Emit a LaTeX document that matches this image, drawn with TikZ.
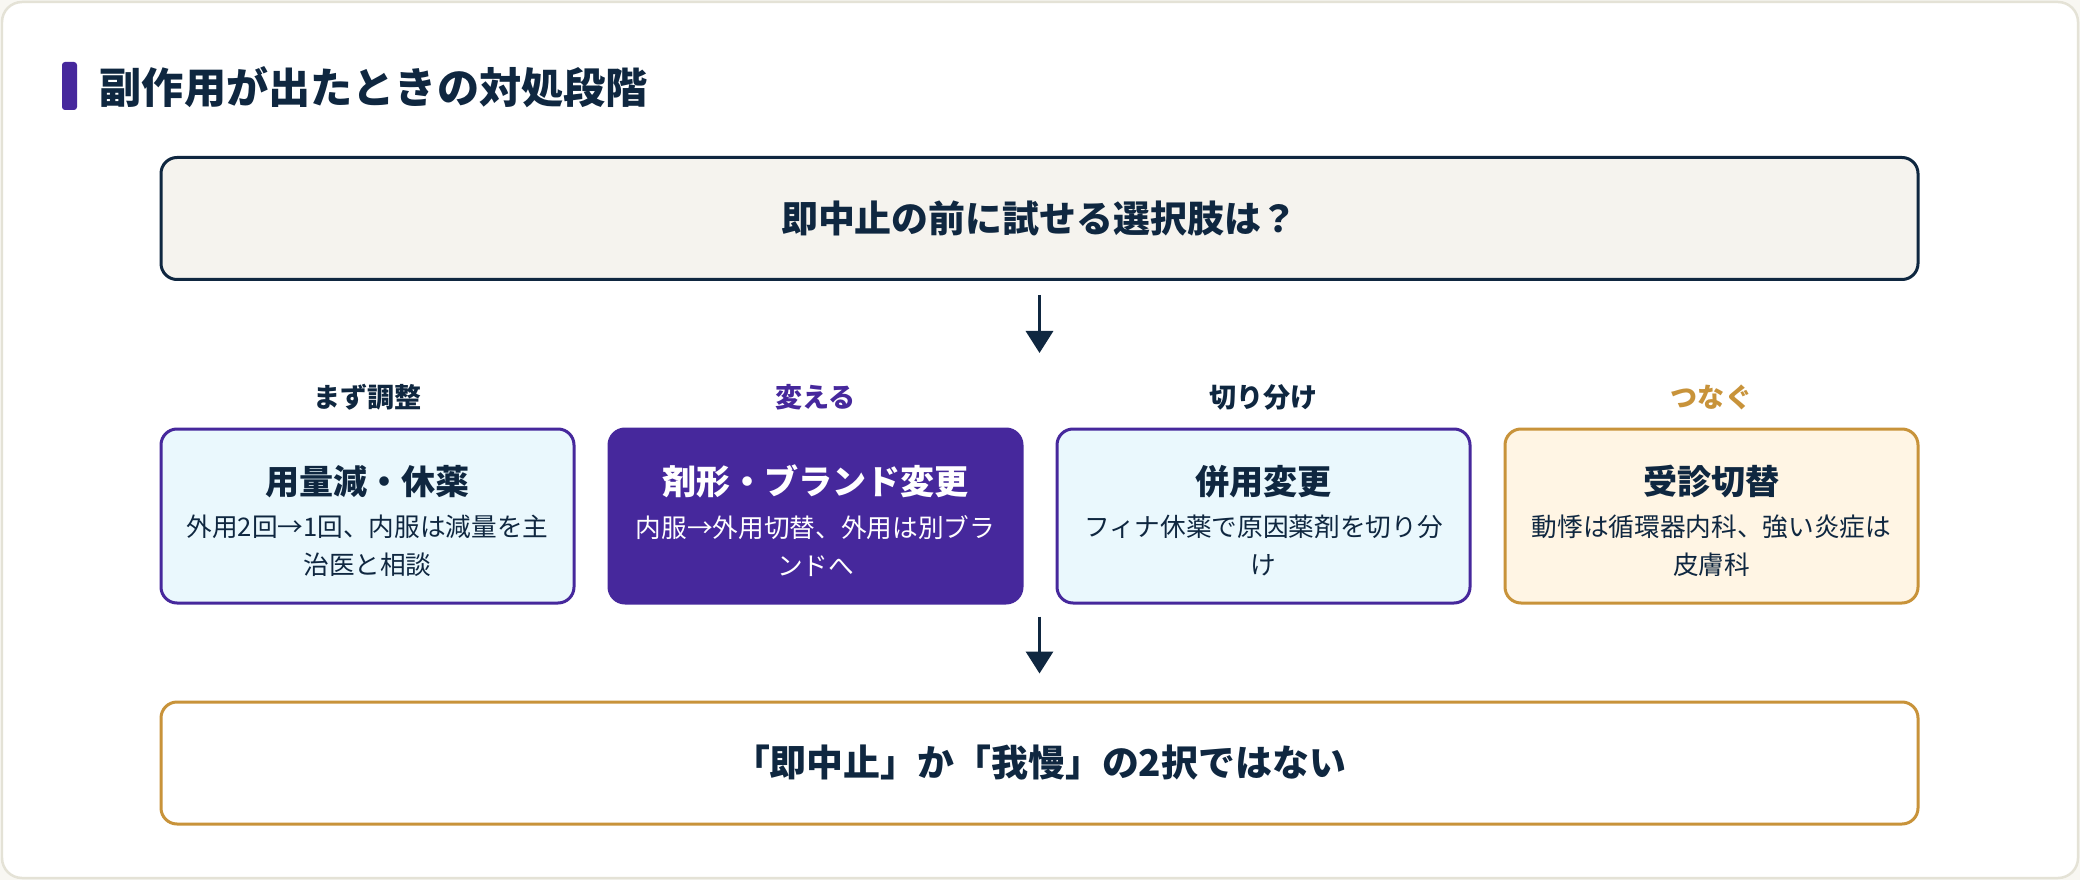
\documentclass[tikz,border=0pt]{standalone}
\usepackage{fontspec}
\setmainfont{Noto Sans CJK JP}
\usetikzlibrary{arrows.meta}

\definecolor{navy}{HTML}{0F2740}
\definecolor{violet}{HTML}{46289C}
\definecolor{gold}{HTML}{C8933A}
\definecolor{skyfill}{HTML}{EAF8FD}
\definecolor{creamfill}{HTML}{FFF5E4}
\definecolor{paperfill}{HTML}{F5F3EE}
\definecolor{cardline}{HTML}{E4E2D6}
\definecolor{outside}{HTML}{F8F7F2}

\tikzset{
  stepcard/.style={draw, line width=0.3mm, rounded corners=1.6mm, align=center,
    minimum width=41.3mm, minimum height=17.4mm, inner sep=0pt,
    font=\fontsize{7.3}{10.8}\selectfont},
  widecard/.style={draw, line width=0.3mm, rounded corners=1.6mm,
    minimum width=175.7mm, minimum height=12.2mm, inner sep=0pt,
    font=\bfseries\fontsize{10.5}{12}\selectfont, text=navy},
  steptag/.style={font=\bfseries\fontsize{7.7}{9}\selectfont},
  downarrow/.style={draw=navy, line width=0.33mm,
    -{Triangle[width=2.7mm,length=2.2mm]}}
}
% 見出し行の上に少し余白を足す
\newcommand{\cardhead}[1]{{\bfseries\fontsize{9.7}{11}\selectfont\rule{0pt}{3.9mm}#1}\\[0.45mm]}

\begin{document}
\begin{tikzpicture}[x=0.1mm,y=-0.1mm]
  % 背景とカード
  \fill[outside] (0,0) rectangle (2080,880);
  \draw[cardline, fill=white, line width=0.25mm, rounded corners=2mm] (2,2) rectangle (2078,878);

  % 見出し
  \fill[violet, rounded corners=0.3mm] (62,62) rectangle (77,110);
  \node[anchor=west, inner sep=0pt, text=navy, font=\bfseries\fontsize{12}{14}\selectfont] (heading) at (99,87) {副作用が出たときの対処段階};

  % 問い
  \node[widecard, fill=paperfill, draw=navy] (question) at (1039.5,218.5) {即中止の前に試せる選択肢は？};

  % 四つの段階
  \node[steptag, text=navy]   (tag1) at (367.5,397)  {まず調整};
  \node[steptag, text=violet] (tag2) at (815.5,397)  {変える};
  \node[steptag, text=navy]   (tag3) at (1263.5,397) {切り分け};
  \node[steptag, text=gold]   (tag4) at (1711.5,397) {つなぐ};

  \node[stepcard, draw=violet, fill=skyfill, text=navy] (reduce) at (367.5,516)
    {\cardhead{用量減・休薬}外用2回→1回、内服は減量を主\\治医と相談};
  \node[stepcard, draw=violet, fill=violet, text=white] (switch) at (815.5,516)
    {\cardhead{剤形・ブランド変更}内服→外用切替、外用は別ブラ\\ンドへ};
  \node[stepcard, draw=violet, fill=skyfill, text=navy] (isolate) at (1263.5,516)
    {\cardhead{併用変更}フィナ休薬で原因薬剤を切り分\\け};
  \node[stepcard, draw=gold, fill=creamfill, text=navy] (consult) at (1711.5,516)
    {\cardhead{受診切替}動悸は循環器内科、強い炎症は\\皮膚科};

  % 結論
  \node[widecard, fill=white, draw=gold] (answer) at (1039.5,763) {「即中止」か「我慢」の2択ではない};

  % 矢印
  \draw[downarrow] ([yshift=-1.4mm]question.south) -- ([yshift=-7.2mm]question.south);
  \draw[downarrow] ([yshift=8.4mm]answer.north) -- ([yshift=2.7mm]answer.north);
\end{tikzpicture}
\end{document}
